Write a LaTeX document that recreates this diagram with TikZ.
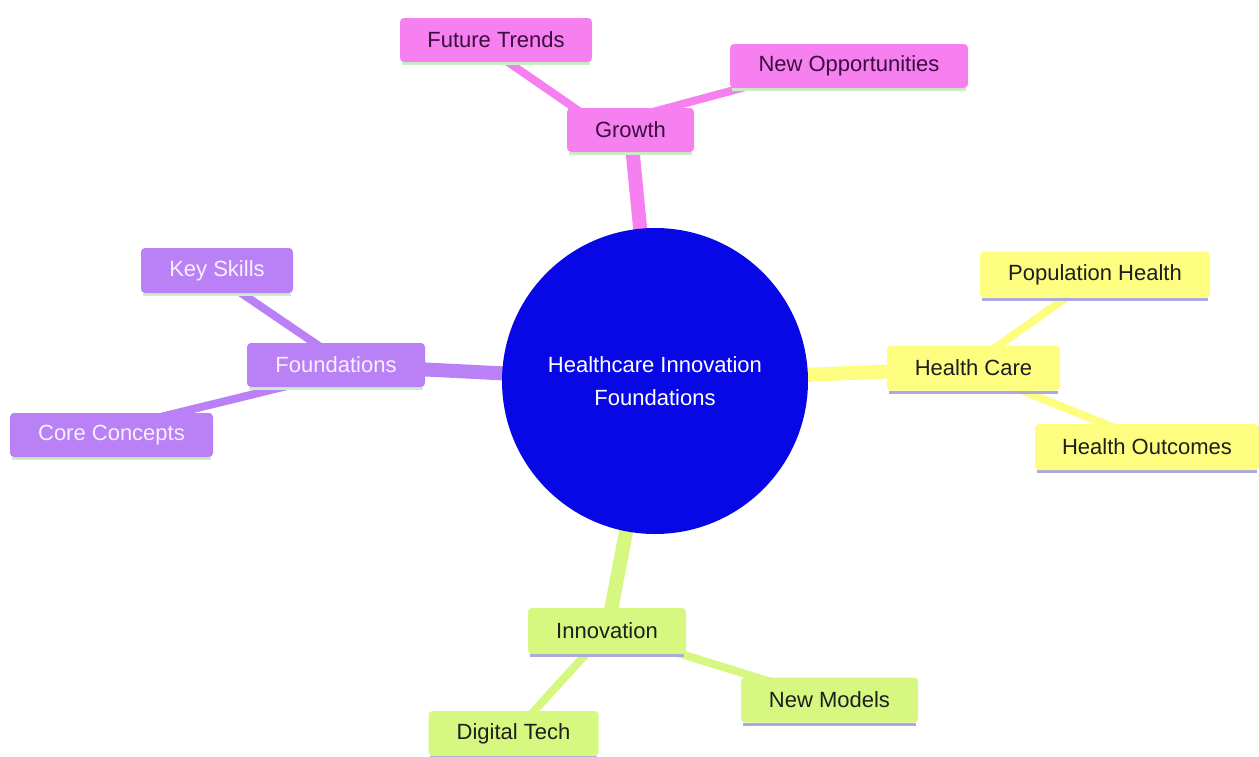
\documentclass[tikz,border=0pt]{standalone}
\usepackage{fontspec}
\setmainfont{Liberation Sans}
\usetikzlibrary{calc,backgrounds}
\definecolor{rootblue}{RGB}{8,8,230}
\definecolor{pinkc}{RGB}{246,128,240}
\definecolor{pinktxt}{RGB}{60,12,64}
\definecolor{purpc}{RGB}{186,128,246}
\definecolor{purptxt}{RGB}{246,240,255}
\definecolor{yellc}{RGB}{253,253,128}
\definecolor{greenc}{RGB}{214,247,128}
\definecolor{darktxt}{RGB}{30,30,30}
\definecolor{linegreen}{RGB}{200,240,196}
\definecolor{linelav}{RGB}{172,168,224}
\tikzset{
  box/.style={rectangle, rounded corners=4pt, inner sep=0pt, font=\fontsize{22}{26}\selectfont, anchor=center},
  pinkbox/.style={box, fill=pinkc, text=pinktxt},
  purpbox/.style={box, fill=purpc, text=purptxt},
  yellbox/.style={box, fill=yellc, text=darktxt},
  greenbox/.style={box, fill=greenc, text=darktxt},
  rootnode/.style={circle, fill=rootblue, text=white, minimum size=306pt, inner sep=0pt, align=center, font=\fontsize{22}{33}\selectfont},
  mainedge/.style={line width=14pt},
  subedge/.style={line width=8pt},
}
\newcommand{\bline}[2]{\draw[#2, line width=3pt] ($(#1.south west)+(2pt,-1.5pt)$) -- ($(#1.south east)+(-2pt,-1.5pt)$);}
\begin{document}
\begin{tikzpicture}[x=1pt,y=-1pt]
\useasboundingbox (0,0) rectangle (1259,756);
\node[rootnode] (root) at (655,381) {Healthcare Innovation\\Foundations};
\node[pinkbox, minimum width=127pt, minimum height=44pt] (growth) at (630.5,130) {Growth};
\node[pinkbox, minimum width=192pt, minimum height=44pt] (future) at (496,40) {Future Trends};
\node[pinkbox, minimum width=238pt, minimum height=44pt] (newopp) at (849,66) {New Opportunities};
\node[purpbox, minimum width=178pt, minimum height=44pt] (found) at (336,365) {Foundations};
\node[purpbox, minimum width=152pt, minimum height=45pt] (keys) at (217,270.5) {Key Skills};
\node[purpbox, minimum width=203pt, minimum height=44pt] (core) at (111.5,435) {Core Concepts};
\node[yellbox, minimum width=173pt, minimum height=45pt] (hcare) at (973.5,368) {Health Care};
\node[yellbox, minimum width=230pt, minimum height=46pt] (pop) at (1095,274.5) {Population Health};
\node[yellbox, minimum width=224pt, minimum height=46pt] (outc) at (1147,447) {Health Outcomes};
\node[greenbox, minimum width=158pt, minimum height=46pt] (innov) at (607,631) {Innovation};
\node[greenbox, minimum width=170pt, minimum height=45pt] (digital) at (513.5,733.5) {Digital Tech};
\node[greenbox, minimum width=177pt, minimum height=45pt] (newm) at (829.5,700) {New Models};
\begin{scope}[on background layer]
  % main edges
  \draw[mainedge, pinkc] (root.center) -- (growth.center);
  \draw[mainedge, purpc] (root.center) -- (found.center);
  \draw[mainedge, yellc] (root.center) -- (hcare.center);
  \draw[mainedge, greenc] (root.center) -- (innov.center);
  % sub edges
  \draw[subedge, pinkc] ($(future.center)+(-20,0)$) -- ($(growth.center)+(-24,0)$);
  \draw[subedge, pinkc] ($(newopp.center)+(0,-7)$) -- ($(growth.center)+(0,-12)$);
  \draw[subedge, purpc] ($(keys.center)+(-9,0)$) -- ($(found.center)+(11,0)$);
  \draw[subedge, purpc] ($(core.center)+(0,-6)$) -- ($(found.center)+(0,9)$);
  \draw[subedge, yellc] ($(pop.center)+(4,0)$) -- ($(hcare.center)+(-7,0)$);
  \draw[subedge, yellc] ($(outc.center)+(0,-6)$) -- ($(hcare.center)+(0,3)$);
  \draw[subedge, greenc] (digital.center) -- (innov.center);
  \draw[subedge, greenc] (newm.center) -- (innov.center);
  % bottom lines
  \bline{growth}{linegreen}
  \bline{future}{linegreen}
  \bline{newopp}{linegreen}
  \bline{found}{linegreen}
  \bline{keys}{linegreen}
  \bline{core}{linegreen}
  \bline{hcare}{linelav}
  \bline{pop}{linelav}
  \bline{outc}{linelav}
  \bline{innov}{linelav}
  \bline{newm}{linelav}
  \bline{digital}{linelav}
\end{scope}
\end{tikzpicture}
\end{document}
